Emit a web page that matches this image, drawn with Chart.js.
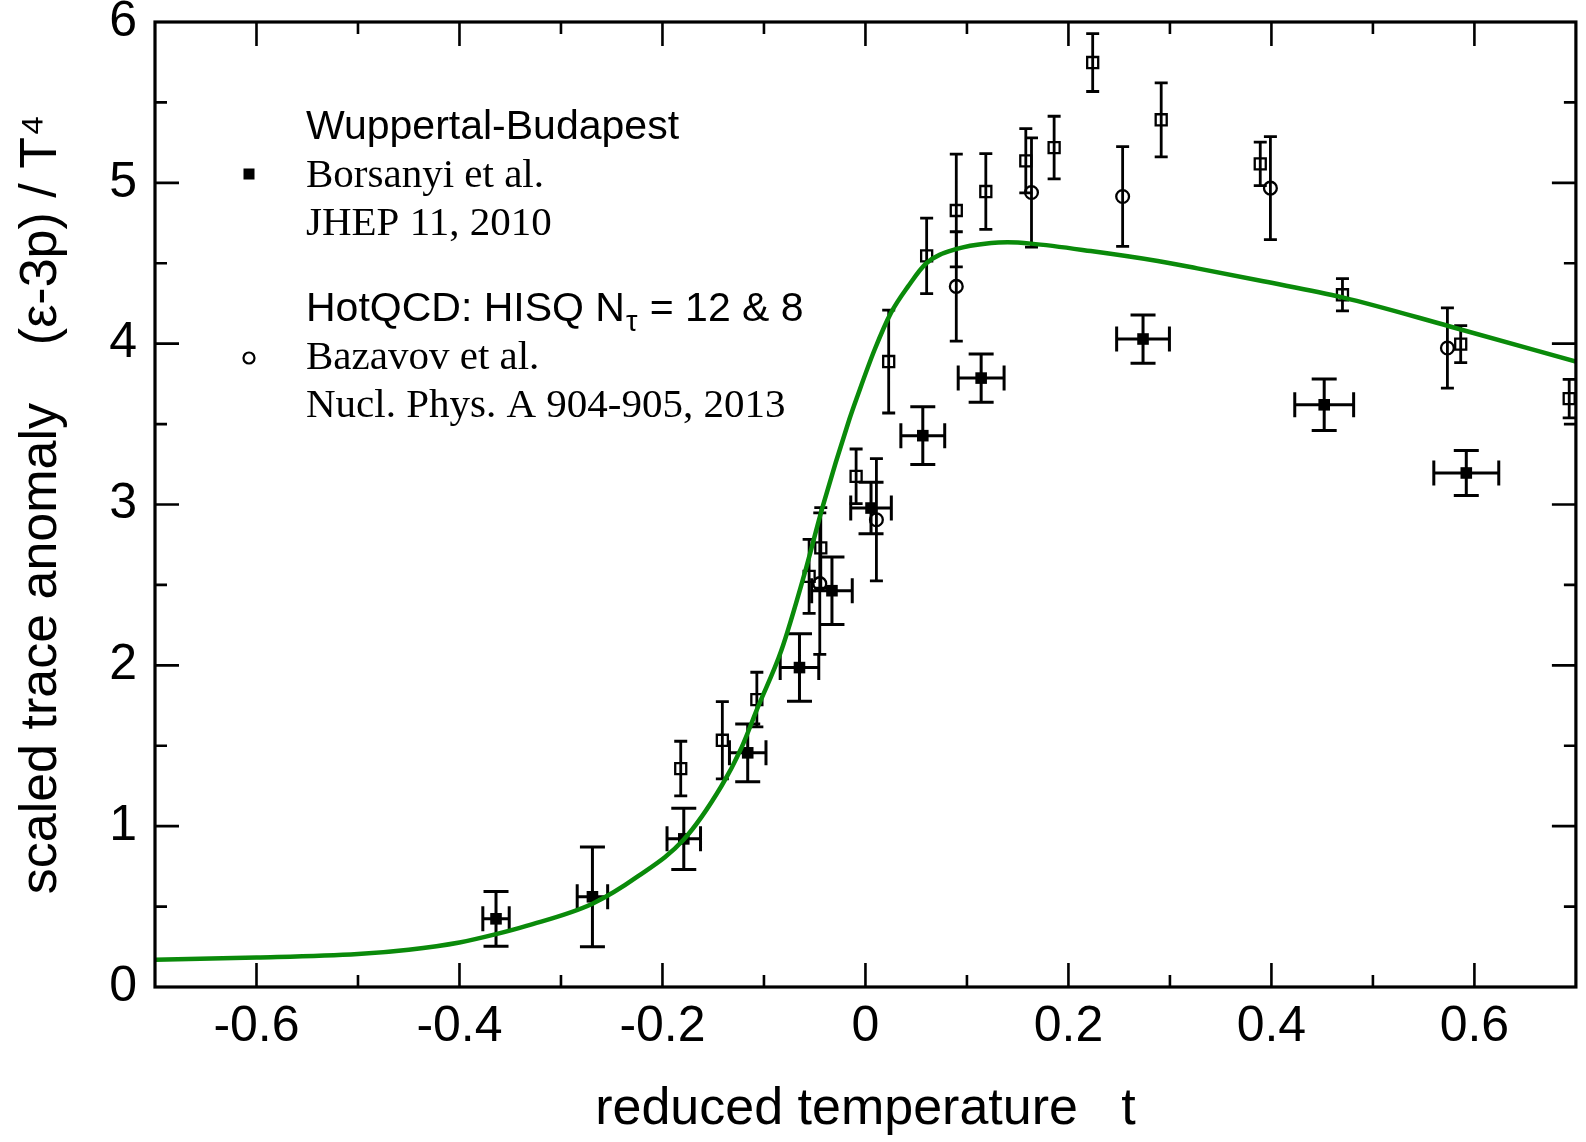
<!DOCTYPE html>
<html><head><meta charset="utf-8">
<script src="https://cdn.jsdelivr.net/npm/chart.js@4.4.1/dist/chart.umd.min.js"></script>
<style>html,body{margin:0;padding:0;background:#fff;}#wrap{width:1586px;height:1142px;}</style>
</head><body><div id="wrap"><canvas id="c" width="1586" height="1142"></canvas></div>
<script>
// ---- tick labels ----
const X_TICKS = [-0.6, -0.4, -0.2, 0, 0.2, 0.4, 0.6];
const X_TICK_LABELS = ['-0.6', '-0.4', '-0.2', '0', '0.2', '0.4', '0.6'];
const X_MINOR = [-0.5, -0.3, -0.1, 0.1, 0.3, 0.5];
const Y_TICKS = [0, 1, 2, 3, 4, 5, 6];
const Y_TICK_LABELS = ['0', '1', '2', '3', '4', '5', '6'];
const Y_MINOR = [0.5, 1.5, 2.5, 3.5, 4.5, 5.5];

// ---- Wuppertal-Budapest (filled squares) ----
const WB_T    = [-0.364, -0.269, -0.179, -0.116, -0.065, -0.033, 0.0055, 0.0565, 0.114, 0.2735, 0.452, 0.592];
const WB_V    = [0.424, 0.561, 0.921, 1.456, 1.986, 2.464, 2.978, 3.428, 3.786, 4.029, 3.620, 3.196];
const WB_ERRV = [0.17, 0.31, 0.19, 0.18, 0.21, 0.21, 0.16, 0.18, 0.15, 0.15, 0.16, 0.14];
const WB_ERRT = [0.013, 0.015, 0.0165, 0.018, 0.019, 0.020, 0.020, 0.0216, 0.0226, 0.026, 0.029, 0.032];

// ---- open squares ----
const SQ_T    = [-0.182, -0.141, -0.107, -0.0555, -0.044, -0.0092, 0.0229, 0.0603, 0.0895, 0.1186, 0.158, 0.1859, 0.2239, 0.2914, 0.389, 0.470, 0.5865, 0.6934];
const SQ_V    = [1.358, 1.534, 1.787, 2.553, 2.730, 3.175, 3.889, 4.546, 4.828, 4.946, 5.137, 5.219, 5.748, 5.392, 5.118, 4.304, 3.997, 3.658];
const SQ_ERRV = [0.17, 0.24, 0.17, 0.23, 0.25, 0.17, 0.32, 0.235, 0.35, 0.235, 0.20, 0.195, 0.18, 0.23, 0.135, 0.10, 0.115, 0.12];

// ---- HotQCD Bazavov et al. (open circles) ----
const HQ_T    = [-0.045, 0.0108, 0.0895, 0.1636, 0.2534, 0.399, 0.5734];
const HQ_V    = [2.508, 2.905, 4.356, 4.940, 4.915, 4.967, 3.973];
const HQ_ERRV = [0.44, 0.38, 0.34, 0.34, 0.31, 0.32, 0.25];

// ---- green curve ----
const CURVE_T = [-0.70, -0.60, -0.50, -0.45, -0.40, -0.365, -0.334, -0.269, -0.224, -0.179, -0.142, -0.122, -0.106, -0.083, -0.060, -0.042, -0.016, -0.008, 0.009, 0.025, 0.042, 0.060, 0.090, 0.124, 0.140, 0.163, 0.222, 0.288, 0.327, 0.392, 0.470, 0.576, 0.700];
const CURVE_V = [0.170, 0.183, 0.205, 0.232, 0.277, 0.327, 0.380, 0.518, 0.689, 0.917, 1.248, 1.49, 1.74, 2.09, 2.57, 2.99, 3.527, 3.672, 3.962, 4.19, 4.356, 4.50, 4.589, 4.626, 4.63, 4.622, 4.576, 4.514, 4.468, 4.388, 4.288, 4.107, 3.889];

const pts = (t, v) => t.map((x, i) => ({x: x, y: v[i]}));

const ERRS = {
  1: {yerr: WB_ERRV, xerr: WB_ERRT, capY: 12.5, capX: 12.5, width: 3},
  2: {yerr: SQ_ERRV, xerr: null, capY: 6.5, capX: 0, width: 2.8},
  3: {yerr: HQ_ERRV, xerr: null, capY: 6.5, capX: 0, width: 2.8}
};

const errorBars = {
  id: 'errorBars',
  beforeDatasetsDraw(chart) {
    const {ctx, scales: {x, y}} = chart;
    ctx.save();
    ctx.strokeStyle = '#000';
    Object.keys(ERRS).forEach(k => {
      const e = ERRS[k];
      const ds = chart.data.datasets[k];
      ctx.lineWidth = e.width;
      ctx.beginPath();
      ds.data.forEach((p, j) => {
        const px = x.getPixelForValue(p.x), py = y.getPixelForValue(p.y);
        const y1 = y.getPixelForValue(p.y + e.yerr[j]);
        const y2 = y.getPixelForValue(p.y - e.yerr[j]);
        ctx.moveTo(px, y1); ctx.lineTo(px, y2);
        ctx.moveTo(px - e.capY, y1); ctx.lineTo(px + e.capY, y1);
        ctx.moveTo(px - e.capY, y2); ctx.lineTo(px + e.capY, y2);
        if (e.xerr) {
          const x1 = x.getPixelForValue(p.x - e.xerr[j]);
          const x2 = x.getPixelForValue(p.x + e.xerr[j]);
          ctx.moveTo(x1, py); ctx.lineTo(x2, py);
          ctx.moveTo(x1, py - e.capX); ctx.lineTo(x1, py + e.capX);
          ctx.moveTo(x2, py - e.capX); ctx.lineTo(x2, py + e.capX);
        }
      });
      ctx.stroke();
    });
    ctx.restore();
  }
};

const frameTicks = {
  id: 'frameTicks',
  afterDatasetsDraw(chart) {
    const {ctx, chartArea: a, scales: {x, y}} = chart;
    ctx.save();
    ctx.strokeStyle = '#000';
    ctx.lineWidth = 2.6;
    ctx.beginPath();
    const xt = (vals, len) => vals.forEach(v => {
      const p = x.getPixelForValue(v);
      ctx.moveTo(p, a.bottom); ctx.lineTo(p, a.bottom - len);
      ctx.moveTo(p, a.top); ctx.lineTo(p, a.top + len);
    });
    const yt = (vals, len) => vals.forEach(v => {
      const p = y.getPixelForValue(v);
      ctx.moveTo(a.left, p); ctx.lineTo(a.left + len, p);
      ctx.moveTo(a.right, p); ctx.lineTo(a.right - len, p);
    });
    xt(X_TICKS, 24); xt(X_MINOR, 12);
    yt(Y_TICKS.slice(1, -1), 24); yt(Y_MINOR, 12);
    ctx.stroke();
    ctx.lineWidth = 3.2;
    ctx.strokeRect(a.left, a.top, a.right - a.left, a.bottom - a.top);
    ctx.restore();
  }
};

const legendBox = {
  id: 'legendBox',
  afterDraw(chart) {
    const {ctx, chartArea: a} = chart;
    const sans = "'Liberation Sans', Arial, sans-serif";
    const serif = "'Liberation Serif', 'Times New Roman', serif";
    const tx = a.left + 151, sx = a.left + 94;
    ctx.save();
    ctx.fillStyle = '#000';
    ctx.strokeStyle = '#000';
    ctx.textAlign = 'left';
    ctx.textBaseline = 'alphabetic';
    ctx.font = '41px ' + sans;
    ctx.fillText('Wuppertal-Budapest', tx, a.top + 117);
    ctx.font = '41px ' + serif;
    ctx.fillText('Borsanyi et al.', tx, a.top + 165);
    ctx.fillText('JHEP 11, 2010', tx, a.top + 213);
    ctx.fillRect(sx - 5.5, a.top + 152 - 5.5, 11, 11);
    // HotQCD line with subscript tau
    ctx.font = '41px ' + sans;
    let s1 = 'HotQCD: HISQ N';
    ctx.fillText(s1, tx, a.top + 299);
    let w1 = ctx.measureText(s1).width;
    ctx.font = '29px ' + sans;
    ctx.fillText('\u03C4', tx + w1 + 1, a.top + 309);
    let w2 = ctx.measureText('\u03C4').width;
    ctx.font = '41px ' + sans;
    ctx.fillText(' = 12 & 8', tx + w1 + w2 + 2, a.top + 299);
    ctx.font = '41px ' + serif;
    ctx.fillText('Bazavov et al.', tx, a.top + 347);
    ctx.fillText('Nucl. Phys. A 904-905, 2013', tx, a.top + 395);
    ctx.lineWidth = 2.2;
    ctx.beginPath();
    ctx.arc(sx, a.top + 336, 5.5, 0, Math.PI * 2);
    ctx.stroke();
    ctx.restore();
  }
};

const tickFont = {family: "'Liberation Sans', Arial, sans-serif", size: 50};
const titleFont = {family: "'Liberation Sans', Arial, sans-serif", size: 52};

new Chart(document.getElementById('c'), {
  type: 'scatter',
  data: {
    datasets: [
      {
        label: 'curve', type: 'line', data: pts(CURVE_T, CURVE_V), showLine: true,
        borderColor: '#0a8a0a', borderWidth: 4.5, pointRadius: 0, fill: false,
        cubicInterpolationMode: 'monotone', order: 0
      },
      {
        label: 'Borsanyi et al.', data: pts(WB_T, WB_V), pointStyle: 'rect', pointRadius: 8.2,
        backgroundColor: '#000', borderColor: '#000', borderWidth: 0, order: 1
      },
      {
        label: 'open squares', data: pts(SQ_T, SQ_V), pointStyle: 'rect', pointRadius: 7.8,
        backgroundColor: 'rgba(0,0,0,0)', borderColor: '#000', borderWidth: 2.3, order: 2
      },
      {
        label: 'Bazavov et al.', data: pts(HQ_T, HQ_V), pointStyle: 'circle', pointRadius: 6.4,
        backgroundColor: 'rgba(0,0,0,0)', borderColor: '#000', borderWidth: 2.3, order: 3
      }
    ]
  },
  options: {
    responsive: false,
    animation: false,
    events: [],
    layout: {padding: {left: 0, top: 22, right: 6, bottom: 0}},
    plugins: {legend: {display: false}, tooltip: {enabled: false}},
    scales: {
      x: {
        type: 'linear', min: -0.7, max: 0.7,
        grid: {display: false, drawTicks: false},
        border: {display: false},
        afterBuildTicks: s => { s.ticks = X_TICKS.map(v => ({value: v})); },
        afterFit: s => { s.height = 155; s.paddingLeft = 0; s.paddingRight = 0; },
        ticks: {
          font: tickFont, color: '#000', padding: 10, maxRotation: 0, autoSkip: false,
          callback: (v, i) => X_TICK_LABELS[i]
        },
        title: {
          display: true, text: 'reduced temperature\u00A0\u00A0\u00A0t',
          font: titleFont, color: '#000', padding: {top: 0, bottom: 1}
        }
      },
      y: {
        type: 'linear', min: 0, max: 6,
        grid: {display: false, drawTicks: false},
        border: {display: false},
        afterBuildTicks: s => { s.ticks = Y_TICKS.map(v => ({value: v})); },
        afterFit: s => { s.width = 155; s.paddingTop = 0; s.paddingBottom = 0; },
        ticks: {
          font: tickFont, color: '#000', padding: 18, autoSkip: false,
          callback: (v, i) => Y_TICK_LABELS[i]
        },
        title: {
          display: true, text: 'scaled trace anomaly\u00A0\u00A0\u00A0\u00A0(\u03B5-3p) / T\u2074',
          font: titleFont, color: '#000', padding: {top: 10, bottom: 0}
        }
      }
    }
  },
  plugins: [errorBars, frameTicks, legendBox]
});
</script></body></html>
